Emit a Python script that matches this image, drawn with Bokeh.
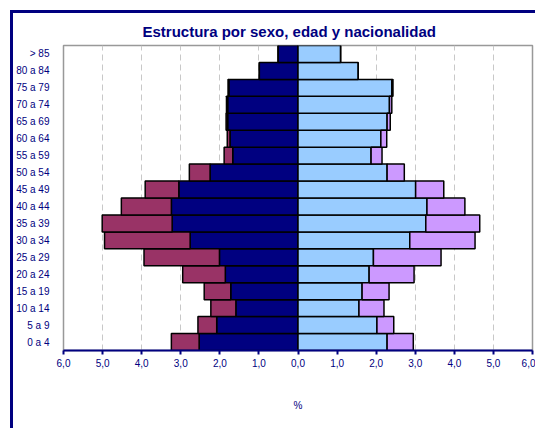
from bokeh.plotting import figure
from bokeh.models import ColumnDataSource, FixedTicker, CustomJSTickFormatter
from bokeh.embed import file_html
from bokeh.resources import INLINE

# Age groups, bottom to top
ages = ["0 a 4", "5 a 9", "10 a 14", "15 a 19", "20 a 24", "25 a 29", "30 a 34",
        "35 a 39", "40 a 44", "45 a 49", "50 a 54", "55 a 59", "60 a 64",
        "65 a 69", "70 a 74", "75 a 79", "80 a 84", "> 85"]

# Percentages
hombres_esp = [2.53, 2.08, 1.59, 1.72, 1.86, 2.01, 2.76, 3.22, 3.24, 3.05, 2.25, 1.67, 1.74,
               1.80, 1.80, 1.77, 0.99, 0.51]
hombres_ext = [0.71, 0.48, 0.64, 0.68, 1.09, 1.93, 2.19, 1.79, 1.28, 0.86, 0.53, 0.22, 0.07,
               0.04, 0.03, 0.02, 0.00, 0.00]
mujeres_esp = [2.28, 2.02, 1.56, 1.64, 1.82, 1.93, 2.86, 3.27, 3.30, 3.01, 2.28, 1.87, 2.12,
               2.28, 2.34, 2.40, 1.54, 1.09]
mujeres_ext = [0.67, 0.43, 0.64, 0.69, 1.15, 1.73, 1.67, 1.38, 0.97, 0.72, 0.44, 0.28, 0.15,
               0.08, 0.06, 0.03, 0.00, 0.00]

tick_values = [-6, -5, -4, -3, -2, -1, 0, 1, 2, 3, 4, 5, 6]

NAVY = "#000080"

src = ColumnDataSource(dict(
    age=ages,
    he_l=[-v for v in hombres_esp],
    he_r=[0.0] * len(ages),
    hx_l=[-(a + b) for a, b in zip(hombres_esp, hombres_ext)],
    hx_r=[-v for v in hombres_esp],
    me_l=[0.0] * len(ages),
    me_r=mujeres_esp,
    mx_l=mujeres_esp,
    mx_r=[a + b for a, b in zip(mujeres_esp, mujeres_ext)],
))

p = figure(width=525, height=418, y_range=ages, x_range=(-6, 6),
           output_backend="svg", toolbar_location=None,
           min_border_left=50, min_border_right=6, min_border_top=32, min_border_bottom=81,
           title="Estructura por sexo, edad y nacionalidad",
           styles={"margin-left": "10px", "margin-top": "10px",
                   "border-left": "3px solid #000080", "border-top": "3px solid #000080"})

p.title.text_font = "Liberation Sans"
p.title.text_font_size = "15px"
p.title.text_font_style = "bold"
p.title.text_color = NAVY
p.title.align = "left"
p.title.offset = 79
p.title.standoff = 11

p.outline_line_color = "#999999"
p.outline_line_width = 1.5

# grid
p.ygrid.grid_line_color = None
p.xgrid.grid_line_color = "#c8c8c8"
p.xgrid.grid_line_dash = "6 4"
p.xgrid.grid_line_width = 1

kw = dict(height=1.0, line_color="black", line_width=1.5)
p.hbar(y="age", left="he_l", right="he_r", fill_color=NAVY, source=src, **kw)
p.hbar(y="age", left="hx_l", right="hx_r", fill_color="#993366", source=src, **kw)
p.hbar(y="age", left="me_l", right="me_r", fill_color="#99CCFF", source=src, **kw)
p.hbar(y="age", left="mx_l", right="mx_r", fill_color="#CC99FF", source=src, **kw)

# x axis
xa = p.xaxis[0]
xa.ticker = FixedTicker(ticks=tick_values)
xa.formatter = CustomJSTickFormatter(code="return Math.abs(tick).toFixed(1).replace('.', ',');")
xa.axis_line_color = NAVY
xa.axis_line_width = 2
xa.major_tick_line_color = NAVY
xa.major_tick_line_width = 2
xa.major_tick_out = 4
xa.major_tick_in = 0
xa.minor_tick_line_color = None
xa.major_label_text_font = "Liberation Sans"
xa.major_label_text_font_size = "10px"
xa.major_label_text_color = NAVY
xa.major_label_standoff = 4
xa.axis_label = "%"
xa.axis_label_text_font = "Liberation Sans"
xa.axis_label_text_font_size = "10px"
xa.axis_label_text_font_style = "normal"
xa.axis_label_text_color = NAVY
xa.axis_label_standoff = 30

# y axis
ya = p.yaxis[0]
ya.axis_line_color = None
ya.major_tick_line_color = None
ya.minor_tick_line_color = None
ya.major_label_text_font = "Liberation Sans"
ya.major_label_text_font_size = "10px"
ya.major_label_text_color = NAVY
ya.major_label_standoff = 8

open("out.html", "w").write(file_html(p, INLINE))
